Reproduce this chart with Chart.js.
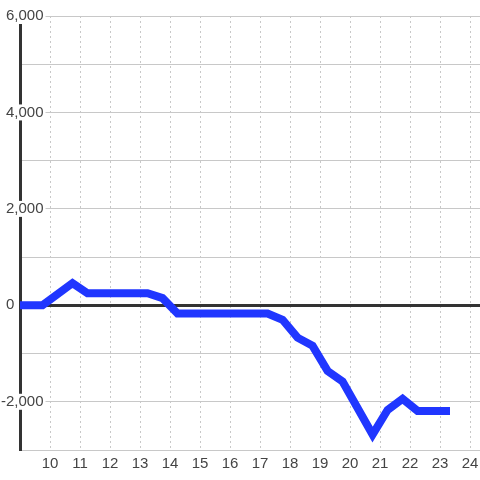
<!DOCTYPE html>
<html>
<head>
<meta charset="utf-8">
<script src="https://cdn.jsdelivr.net/npm/chart.js@4"></script>
<style>
  html, body { margin: 0; padding: 0; background: #fff; }
  #wrap { width: 480px; height: 480px; }
</style>
</head>
<body>
<div id="wrap"><canvas id="chart"></canvas></div>
<script>
// hours of the day and the running value at each point
const hours = [9.0, 9.75, 10.75, 11.25, 13.25, 13.75, 14.25, 17.25, 17.75, 18.25, 18.75, 19.25, 19.75, 20.75, 21.25, 21.75, 22.25, 23.33];
const values = [0, 0, 460, 250, 250, 150, -170, -170, -300, -670, -840, -1360, -1580, -2680, -2170, -1940, -2190, -2190];
const xTickValues = [10, 11, 12, 13, 14, 15, 16, 17, 18, 19, 20, 21, 22, 23, 24];
const yLabelValues = [6000, 4000, 2000, 0, -2000];

const FAMILY = '"Liberation Sans", Arial, sans-serif';

// y labels sit on top of the axis with a white box behind them
const yLabelPlugin = {
    id: 'yLabels',
    beforeDatasetsDraw(chart) {
        const ctx = chart.ctx;
        const y = chart.scales.y;
        ctx.save();
        ctx.font = '15px ' + FAMILY;
        ctx.textBaseline = 'middle';
        ctx.textAlign = 'left';
        const minusW = ctx.measureText('-').width;
        yLabelValues.forEach(v => {
            const text = v.toLocaleString('en-US');
            const w = ctx.measureText(text).width;
            const left = v < 0 ? 6 - minusW : 6;
            const py = y.getPixelForValue(v);
            ctx.fillStyle = '#fff';
            ctx.fillRect(left - 1, py - 8, w + 3, 16);
            ctx.fillStyle = '#444';
            ctx.fillText(text, left, py);
        });
        ctx.restore();
    }
};

const points = hours.map((h, i) => ({ x: h, y: values[i] }));

new Chart(document.getElementById('chart'), {
    type: 'line',
    data: {
        datasets: [{
            data: points,
            borderColor: '#2036ff',
            borderWidth: 8,
            pointRadius: 0,
            fill: false,
            tension: 0,
            borderJoinStyle: 'miter',
            clip: false
        }]
    },
    options: {
        responsive: true,
        maintainAspectRatio: false,
        animation: false,
        layout: { padding: { top: 16, left: 20, right: 0, bottom: 2 } },
        plugins: { legend: { display: false }, tooltip: { enabled: false } },
        scales: {
            x: {
                type: 'linear',
                min: 9,
                max: 24.33,
                afterBuildTicks: axis => { axis.ticks = xTickValues.map(v => ({ value: v })); },
                afterFit: axis => { axis.paddingRight = 0; axis.paddingLeft = 0; },
                ticks: {
                    padding: 5,
                    color: '#444',
                    font: { family: FAMILY, size: 15 },
                    maxRotation: 0,
                    autoSkip: false
                },
                grid: {
                    color: '#c8c8c8',
                    lineWidth: 1,
                    drawTicks: false
                },
                border: { display: true, color: '#c8c8c8', width: 1, dash: [2, 3] }
            },
            y: {
                min: -3000,
                max: 6000,
                afterFit: axis => { axis.paddingTop = 0; axis.paddingBottom = 0; },
                ticks: { stepSize: 1000, display: false },
                grid: {
                    color: c => c.tick.value === 0 ? '#333' : '#c8c8c8',
                    lineWidth: c => c.tick.value === 0 ? 3 : 1,
                    drawTicks: false
                },
                border: { display: true, color: '#333', width: 3 }
            }
        }
    },
    plugins: [yLabelPlugin]
});
</script>
</body>
</html>
